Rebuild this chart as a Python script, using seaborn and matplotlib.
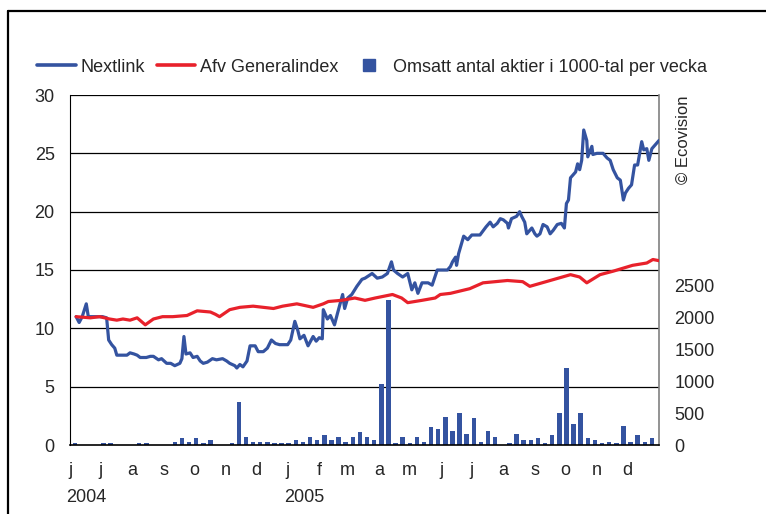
import matplotlib
matplotlib.use("Agg")
import numpy as np
import pandas as pd
import matplotlib.pyplot as plt
import seaborn as sns
from matplotlib.lines import Line2D
import matplotlib.transforms as mtransforms

# --- data ---
start = pd.Timestamp("2004-06-01")

# Nextlink price, day offset from 2004-06-01
nextlink_day = [6, 9, 12, 16, 18, 25, 32, 36, 38, 41,
                44, 46, 51, 56, 59, 63, 66, 69, 75, 79,
                82, 87, 90, 95, 99, 103, 108, 110, 112, 114,
                118, 121, 125, 128, 131, 135, 140, 144, 150, 154,
                157, 162, 164, 167, 170, 174, 177, 182, 185, 190,
                194, 198, 202, 206, 214, 217, 221, 224, 226, 230,
                234, 239, 242, 245, 248, 249, 253, 256, 260, 263,
                268, 270, 273, 277, 282, 287, 290, 297, 302, 307,
                312, 316, 318, 322, 327, 332, 336, 339, 342, 346,
                352, 356, 361, 366, 371, 374, 376, 379, 380, 382,
                385, 387, 391, 395, 403, 409, 413, 416, 420, 423,
                426, 430, 431, 434, 439, 442, 444, 447, 449, 454,
                457, 459, 462, 465, 469, 472, 475, 479, 483, 486,
                488, 490, 492, 494, 497, 499, 501, 503, 505, 508,
                509, 513, 514, 518, 524, 528, 531, 534, 538, 541,
                544, 546, 549, 552, 555, 558, 562, 564, 567, 569,
                572, 577, 579]
nextlink = [11.0, 10.5, 11.0, 12.1, 11.0, 11.0, 11.0, 10.9, 9.0, 8.6,
            8.3, 7.7, 7.7, 7.7, 7.9, 7.8, 7.7, 7.5, 7.5, 7.6,
            7.6, 7.3, 7.4, 7.0, 7.0, 6.8, 7.0, 7.4, 9.3, 7.8,
            7.9, 7.5, 7.6, 7.2, 7.0, 7.1, 7.4, 7.3, 7.4, 7.2,
            7.0, 6.8, 6.6, 6.9, 6.7, 7.2, 8.5, 8.5, 8.0, 8.0,
            8.3, 9.0, 8.7, 8.6, 8.6, 9.0, 10.6, 9.8, 9.1, 9.4,
            8.5, 9.3, 8.9, 9.2, 9.1, 11.6, 10.8, 11.1, 10.3, 11.3,
            12.9, 11.7, 12.6, 12.9, 13.6, 14.2, 14.3, 14.7, 14.3, 14.4,
            14.7, 15.7, 15.0, 14.7, 14.4, 14.7, 13.3, 13.9, 13.0, 13.9,
            13.9, 13.7, 15.0, 15.0, 15.0, 15.3, 15.7, 16.1, 15.4, 16.4,
            17.3, 17.9, 17.6, 18.0, 18.0, 18.7, 19.1, 18.7, 19.0, 19.4,
            19.3, 19.0, 18.6, 19.4, 19.6, 20.0, 19.6, 19.1, 18.1, 18.6,
            18.1, 17.9, 18.1, 18.9, 18.7, 18.1, 18.4, 18.9, 19.0, 18.6,
            20.7, 21.0, 22.9, 23.1, 23.4, 24.1, 23.6, 24.4, 27.0, 26.1,
            24.7, 25.6, 24.9, 25.0, 25.0, 24.6, 24.4, 23.6, 22.9, 22.7,
            21.0, 21.6, 22.0, 22.3, 24.0, 24.0, 26.0, 25.3, 25.4, 24.4,
            25.4, 25.9, 26.1]

# Afv Generalindex (rebased), day offset from 2004-06-01
index_day = [6, 20, 29, 39, 46, 52, 59, 66, 74, 82,
             91, 101, 115, 125, 138, 143, 147, 157, 167, 180,
             190, 200, 209, 223, 239, 249, 254, 267, 280, 290,
             300, 317, 326, 332, 346, 359, 364, 374, 393, 406,
             430, 445, 452, 472, 492, 501, 508, 521, 534, 553,
             567, 573, 579]
genindex = [11.0, 10.9, 11.0, 10.8, 10.7, 10.8, 10.7, 10.9, 10.3, 10.8,
            11.0, 11.0, 11.1, 11.5, 11.4, 11.2, 11.0, 11.6, 11.8, 11.9,
            11.8, 11.7, 11.9, 12.1, 11.8, 12.1, 12.3, 12.4, 12.6, 12.4,
            12.6, 12.9, 12.6, 12.2, 12.4, 12.6, 12.9, 13.0, 13.4, 13.9,
            14.1, 14.0, 13.6, 14.1, 14.6, 14.4, 13.9, 14.6, 14.9, 15.4,
            15.6, 15.9, 15.8]

# weekly volume (1000-tal)
volume = [25, 0, 0, 0, 25, 25, 0, 0, 0, 25,
          25, 0, 0, 0, 40, 105, 40, 105, 25, 75,
          0, 0, 25, 670, 120, 40, 40, 40, 25, 25,
          25, 75, 40, 120, 75, 150, 75, 120, 40, 120,
          200, 125, 75, 955, 2275, 25, 125, 25, 125, 40,
          283, 250, 440, 220, 500, 168, 425, 40, 220, 125,
          5, 25, 168, 75, 75, 105, 25, 150, 500, 1205,
          325, 500, 105, 75, 25, 40, 25, 295, 40, 150,
          40, 105]

month_labels = ["j", "j", "a", "s", "o", "n", "d", "j", "f", "m",
                "a", "m", "j", "j", "a", "s", "o", "n", "d"]
year_labels = ["2004", "2005"]
year_starts = ["2004-06-01", "2005-01-01"]

BLUE = "#3453A0"
RED = "#E8212B"

nl_dates = start + pd.to_timedelta(nextlink_day, unit="D")
ix_dates = start + pd.to_timedelta(index_day, unit="D")
vol_dates = pd.date_range("2004-06-06", periods=len(volume), freq="7D")

# --- figure ---
sns.set_style("white")
plt.rcParams["font.family"] = ["Liberation Sans", "DejaVu Sans"]

W, H = 766, 514
fig = plt.figure(figsize=(W / 100, H / 100), dpi=100)
ax = fig.add_axes([70 / W, 1 - 445 / H, 589 / W, 350 / H])
axv = ax.twinx()
ax.set_zorder(axv.get_zorder() + 1)
ax.patch.set_visible(False)

# gridlines behind the bars, positioned on the price scale
price_ticks = list(range(0, 31, 5))
axv.hlines(price_ticks[1:], 0, 1, transform=ax.get_yaxis_transform(),
           colors="black", lw=0.9, zorder=1)
axv.bar(vol_dates, volume, width=4.4, color=BLUE, edgecolor="none",
        linewidth=0, zorder=2)

sns.lineplot(x=nl_dates, y=nextlink, ax=ax, color=BLUE, lw=2.3,
             estimator=None, sort=False, zorder=3)
sns.lineplot(x=ix_dates, y=genindex, ax=ax, color=RED, lw=2.3,
             estimator=None, sort=False, zorder=4)

ax.set_xlim(pd.Timestamp("2004-06-01"), pd.Timestamp("2006-01-01"))
ax.set_ylim(0, 30)
axv.set_ylim(0, 5500)
ax.set_yticks(price_ticks)
axv.set_yticks(range(0, 2501, 500))
ax.set_xticks(pd.date_range("2004-06-01", periods=len(month_labels), freq="MS"))
ax.set_xticklabels(month_labels)
ax.set_xlabel("")
ax.set_ylabel("")

ax.tick_params(axis="x", length=0, labelsize=13, pad=12)
ax.tick_params(axis="y", length=0, labelsize=13, pad=11)
axv.tick_params(axis="y", length=0, labelsize=13, pad=11)

for s in ["top", "right"]:
    ax.spines[s].set_visible(False)
ax.spines["left"].set_color("black")
ax.spines["bottom"].set_color("black")
ax.spines["bottom"].set_linewidth(1.2)
for s in ["top", "left", "bottom"]:
    axv.spines[s].set_visible(False)
axv.spines["right"].set_color("#808080")
axv.spines["right"].set_linewidth(1.2)

# year labels under the month letters
trans = mtransforms.blended_transform_factory(ax.transData, ax.transAxes)
for lab, d in zip(year_labels, year_starts):
    ax.text(pd.Timestamp(d) - pd.Timedelta(days=4), -0.149, lab,
            transform=trans, ha="left", va="center", fontsize=13)

# legend
handles = [
    Line2D([], [], color=BLUE, lw=2.6, label="Nextlink"),
    Line2D([], [], color=RED, lw=2.6, label="Afv Generalindex"),
    Line2D([], [], marker="s", ls="none", color=BLUE, markersize=8.5,
           label="Omsatt antal aktier i 1000-tal per vecka"),
]
fig.legend(handles=handles, loc="center left", bbox_to_anchor=(37 / W, 1 - 67 / H),
           ncol=3, frameon=False, fontsize=13, handlelength=2.15,
           handletextpad=0.25, columnspacing=0.65, borderpad=0, borderaxespad=0)

fig.text(683 / W, 1 - 95 / H, "© Ecovision", rotation=90, ha="center", va="top",
         fontsize=12)

# outer frame (left and top edges)
fx, fy = 8 / W, 1 - 11 / H
fig.add_artist(Line2D([fx, fx], [0, fy], color="black", lw=1.6, transform=fig.transFigure))
fig.add_artist(Line2D([fx, 1], [fy, fy], color="black", lw=1.6, transform=fig.transFigure))

fig.savefig("out.png", dpi=100)
plt.close(fig)
